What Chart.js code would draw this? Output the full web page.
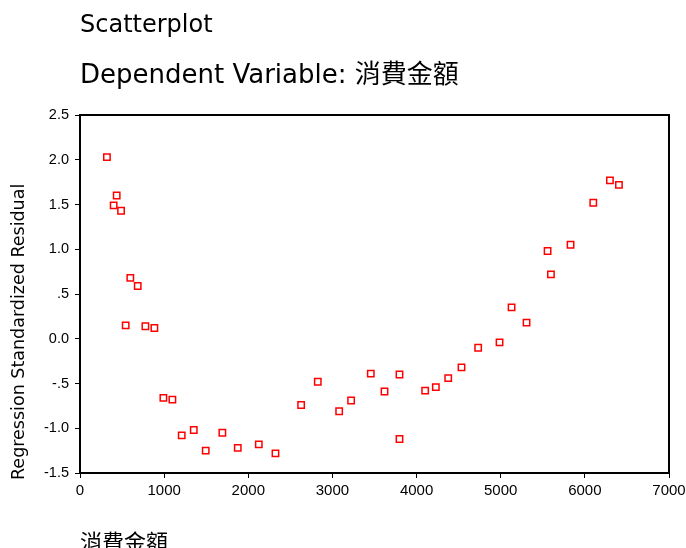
<!DOCTYPE html>
<html>
<head>
<meta charset="utf-8">
<script src="https://cdn.jsdelivr.net/npm/chart.js@4.4.1/dist/chart.umd.min.js"></script>
<style>
  html, body { margin: 0; padding: 0; background: #fff; overflow: hidden; }
  #wrap { position: relative; width: 686px; height: 548px; }
  #c { position: absolute; left: 0; top: 0; }
  .t { position: absolute; left: 80px; white-space: nowrap; color: #000;
       font-family: "DejaVu Sans", "Noto Sans CJK TC", sans-serif; line-height: 1; }
  #t1 { top: 12px; font-size: 24px; }
  #t2 { top: 61px; font-size: 26px; }
  #ytitle { position: absolute; left: 10px; top: 480px; transform-origin: 0 0;
            transform: rotate(-90deg); font-family: "DejaVu Sans", sans-serif;
            font-size: 17.5px; line-height: 1; white-space: nowrap; color: #000; }
</style>
</head>
<body>
<div id="wrap">
  <canvas id="c" width="686" height="548"></canvas>
  <div class="t" id="t1"></div>
  <div class="t" id="t2"></div>
  <div id="ytitle"></div>
</div>
<script>
// Spending amount (消費金額) of each case
const spending = [320, 400, 436, 488, 543, 598, 686, 777, 884, 991,
                  1098, 1209, 1352, 1494, 1692, 1875, 2125, 2323, 2628, 2826,
                  3080, 3222, 3456, 3619, 3797, 3797, 4102, 4229, 4376, 4534,
                  4732, 4986, 5129, 5307, 5557, 5597, 5830, 6100, 6298, 6405];
// Regression standardized residual of each case
const residuals = [2.03, 1.49, 1.60, 1.43, 0.15, 0.68, 0.59, 0.14, 0.12, -0.66,
                   -0.68, -1.08, -1.02, -1.25, -1.05, -1.22, -1.18, -1.28, -0.74, -0.48,
                   -0.81, -0.69, -0.39, -0.59, -0.40, -1.12, -0.58, -0.54, -0.44, -0.32,
                   -0.10, -0.04, 0.35, 0.18, 0.98, 0.72, 1.05, 1.52, 1.77, 1.72];

const yTickValues = [-1.5, -1.0, -0.5, 0.0, 0.5, 1.0, 1.5, 2.0, 2.5];
const yTickLabels = ['-1.5', '-1.0', '-.5', '0.0', '.5', '1.0', '1.5', '2.0', '2.5'];
const xTickValues = [0, 1000, 2000, 3000, 4000, 5000, 6000, 7000];

const chartTitle = 'Scatterplot';
const chartSubtitle = 'Dependent Variable: 消費金額';
const xTitle = '消費金額';
const yTitle = 'Regression Standardized Residual';

document.getElementById('t1').textContent = chartTitle;
document.getElementById('t2').textContent = chartSubtitle;
document.getElementById('ytitle').textContent = yTitle;

const points = spending.map((x, i) => ({ x: x, y: residuals[i] }));

// Black frame around the plotting area
const frame = {
  id: 'frame',
  afterDatasetsDraw(chart) {
    const { ctx, chartArea: a } = chart;
    ctx.save();
    ctx.strokeStyle = '#000';
    ctx.lineWidth = 2;
    ctx.strokeRect(a.left, a.top, a.right - a.left, a.bottom - a.top);
    ctx.restore();
  }
};

const xTickFont = { family: '"Liberation Sans", Arial, sans-serif', size: 15 };
const yTickFont = { family: '"Liberation Sans", Arial, sans-serif', size: 14.5 };

new Chart(document.getElementById('c'), {
  type: 'scatter',
  data: {
    datasets: [{
      data: points,
      pointStyle: 'rect',
      radius: 4.5,
      hoverRadius: 4.5,
      borderColor: '#ff0000',
      backgroundColor: '#ffffff',
      borderWidth: 1.5
    }]
  },
  options: {
    responsive: false,
    devicePixelRatio: 1,
    animation: false,
    layout: { padding: { top: 115, right: 17, bottom: 0, left: 0 } },
    plugins: { legend: { display: false }, tooltip: { enabled: false } },
    scales: {
      x: {
        type: 'linear',
        min: xTickValues[0],
        max: xTickValues[xTickValues.length - 1],
        afterBuildTicks(scale) { scale.ticks = xTickValues.map(v => ({ value: v })); },
        afterFit(scale) { scale.height = 75; scale.paddingLeft = 0; scale.paddingRight = 0; },
        ticks: { font: xTickFont, color: '#000', padding: 4, maxRotation: 0, autoSkip: false,
                 callback: v => String(v) },
        grid: { drawOnChartArea: false, drawTicks: true, tickLength: 5, color: '#000', lineWidth: 1 },
        border: { display: false },
        title: {
          display: true,
          text: xTitle,
          align: 'start',
          color: '#000',
          font: { family: '"Noto Sans CJK TC", sans-serif', size: 22, lineHeight: 1 },
          padding: { top: 0, bottom: -5 }
        }
      },
      y: {
        type: 'linear',
        min: yTickValues[0],
        max: yTickValues[yTickValues.length - 1],
        afterBuildTicks(scale) { scale.ticks = yTickValues.map(v => ({ value: v })); },
        afterFit(scale) { scale.width = 80; scale.paddingTop = 0; scale.paddingBottom = 0; },
        ticks: {
          font: yTickFont, color: '#000', padding: 6, autoSkip: false,
          callback: (v) => {
            const i = yTickValues.findIndex(t => Math.abs(t - v) < 1e-9);
            return i >= 0 ? yTickLabels[i] : '';
          }
        },
        grid: { drawOnChartArea: false, drawTicks: true, tickLength: 5, color: '#000', lineWidth: 1 },
        border: { display: false }
      }
    }
  },
  plugins: [frame]
});
</script>
</body>
</html>
